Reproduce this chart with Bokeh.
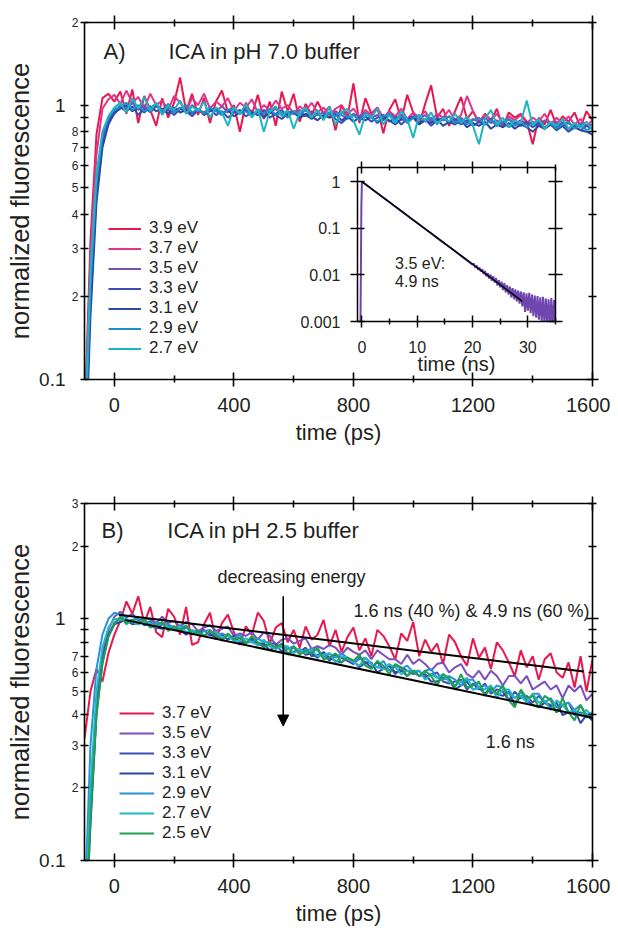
import numpy as np
from bokeh.plotting import figure
from bokeh.models import (FixedTicker, LogAxis, LinearAxis, Label, Arrow, NormalHead,
                          Legend, LegendItem, CustomJSTickFormatter, Range1d)
from bokeh.layouts import column
from bokeh.embed import file_html
from bokeh.resources import INLINE

FONT = "Liberation Sans"
TXT = "#231f20"

# ---------------- data ----------------
t_ps = np.arange(-100, 1601, 20)  # time grid (ps)

top_labels = ["3.9 eV", "3.7 eV", "3.5 eV", "3.3 eV", "3.1 eV", "2.9 eV", "2.7 eV"]
top_colors = ["#e8174d", "#e0358c", "#7b4fb3", "#3e4db5", "#2a4aa3", "#1f8fd0", "#1cb5c3"]

top_39 = [0.07, 0.32, 0.78, 1.06, 1.10, 1.03,
          1.12, 0.93, 1.14, 0.86, 1.08, 0.96, 0.84, 1.06, 0.90, 1.02,
          1.26, 0.95, 1.10, 0.92, 1.06, 0.86, 1.03, 1.13, 0.94, 1.00,
          0.80, 1.02, 0.92, 1.09, 0.89, 1.03, 0.84, 1.12, 0.95, 1.10,
          0.87, 1.01, 0.92, 1.03, 0.93, 0.99, 0.81, 1.00, 0.90, 1.20,
          0.86, 1.06, 0.93, 0.98, 0.79, 0.96, 1.05, 0.88, 1.09, 0.94,
          0.85, 1.01, 1.18, 0.90, 0.97, 0.84, 0.95, 1.07, 0.89, 0.95,
          0.86, 0.93, 0.88, 0.97, 0.83, 0.94, 0.90, 0.93, 0.87, 0.72,
          0.90, 0.85, 0.96, 0.84, 0.91, 0.87, 0.94, 0.83, 0.95, 0.88]
top_37 = [0.06, 0.28, 0.66, 0.97, 1.05, 1.09,
          1.01, 1.13, 1.02, 1.07, 0.97, 1.10, 1.00, 1.04, 0.96, 1.08,
          1.02, 0.95, 1.06, 1.00, 1.10, 0.97, 1.03, 0.99, 1.06, 0.95,
          1.02, 0.98, 1.05, 0.94, 1.00, 0.96, 1.04, 0.97, 1.00, 0.93,
          0.99, 0.95, 1.02, 0.94, 0.98, 0.92, 0.97, 1.00, 0.93, 0.97,
          0.91, 0.96, 0.92, 0.98, 0.90, 0.95, 0.91, 0.97, 0.89, 0.94,
          0.90, 0.95, 0.88, 0.93, 0.90, 0.96, 0.88, 0.92, 1.08, 0.95,
          0.87, 0.92, 0.88, 0.93, 0.86, 0.91, 0.88, 0.92, 0.86, 0.90,
          0.87, 0.93, 0.85, 0.90, 0.86, 0.91, 0.85, 0.89, 0.84, 0.88]
top_35 = [0.05, 0.21, 0.50, 0.76, 0.88, 0.95,
          1.00, 0.97, 1.02, 0.96, 1.00, 0.94, 0.99, 0.96, 1.01, 0.95,
          0.98, 0.94, 1.00, 0.96, 0.93, 0.98, 0.95, 0.99, 0.94, 0.97,
          0.93, 0.98, 0.95, 0.92, 0.96, 0.94, 0.97, 0.92, 0.95, 0.93,
          0.96, 0.91, 0.95, 0.92, 0.94, 0.90, 0.95, 0.92, 0.89, 0.93,
          0.91, 0.94, 0.90, 0.92, 0.88, 0.93, 0.90, 0.92, 0.88, 0.91,
          0.89, 0.92, 0.87, 0.90, 0.88, 0.91, 0.87, 0.90, 0.86, 0.89,
          0.87, 0.90, 0.86, 0.88, 0.85, 0.89, 0.86, 0.88, 0.85, 0.87,
          0.84, 0.88, 0.85, 0.87, 0.84, 0.86, 0.83, 0.86, 0.84, 0.85]
top_33 = [0.05, 0.19, 0.47, 0.72, 0.86, 0.93,
          0.98, 0.95, 0.99, 0.92, 0.97, 0.95, 1.00, 0.94, 0.96, 0.92,
          0.97, 0.95, 0.91, 0.96, 0.94, 0.97, 0.92, 0.95, 0.90, 0.94,
          0.96, 0.91, 0.94, 0.92, 0.95, 0.90, 0.93, 0.96, 0.91, 0.94,
          0.90, 0.92, 0.89, 0.93, 0.90, 0.94, 0.89, 0.86, 0.90, 0.92,
          0.88, 0.91, 0.87, 0.90, 0.92, 0.87, 0.90, 0.85, 0.89, 0.91,
          0.86, 0.89, 0.84, 0.88, 0.90, 0.86, 0.89, 0.85, 0.88, 0.84,
          0.87, 0.85, 0.89, 0.84, 0.87, 0.83, 0.86, 0.84, 0.87, 0.83,
          0.86, 0.82, 0.85, 0.83, 0.86, 0.82, 0.84, 0.81, 0.84, 0.82]
top_31 = [0.04, 0.17, 0.44, 0.70, 0.85, 0.94,
          0.97, 1.00, 0.95, 0.98, 0.94, 0.99, 0.95, 0.97, 0.93, 0.98,
          0.94, 0.96, 0.93, 0.97, 0.92, 0.95, 0.97, 0.93, 0.96, 0.91,
          0.94, 0.96, 0.92, 0.95, 0.90, 0.94, 0.92, 0.89, 0.93, 0.95,
          0.90, 0.93, 0.91, 0.88, 0.92, 0.90, 0.93, 0.88, 0.91, 0.87,
          0.90, 0.88, 0.91, 0.86, 0.90, 0.88, 0.85, 0.89, 0.87, 0.90,
          0.85, 0.88, 0.86, 0.89, 0.84, 0.87, 0.85, 0.88, 0.83, 0.86,
          0.84, 0.87, 0.82, 0.85, 0.83, 0.86, 0.82, 0.85, 0.83, 0.80,
          0.84, 0.82, 0.85, 0.81, 0.84, 0.80, 0.83, 0.81, 0.80, 0.78]
top_29 = [0.05, 0.22, 0.52, 0.78, 0.90, 0.96,
          0.99, 1.02, 0.96, 1.00, 0.95, 0.98, 1.01, 0.95, 0.99, 0.94,
          0.97, 1.00, 0.94, 0.97, 0.93, 0.98, 0.95, 0.92, 0.96, 0.98,
          0.93, 0.95, 0.91, 0.96, 0.93, 0.97, 0.92, 0.94, 0.90, 0.95,
          0.92, 0.96, 0.91, 0.93, 0.89, 0.94, 0.91, 0.95, 0.90, 0.92,
          0.88, 0.93, 0.90, 0.87, 0.91, 0.93, 0.88, 0.91, 0.86, 0.90,
          0.92, 0.87, 0.90, 0.86, 0.89, 0.91, 0.86, 0.89, 0.85, 0.88,
          0.90, 0.85, 0.88, 0.84, 0.87, 0.89, 0.84, 0.87, 0.83, 0.86,
          0.88, 0.83, 0.86, 0.82, 0.85, 0.87, 0.82, 0.85, 0.81, 0.83]
top_27 = [0.06, 0.25, 0.56, 0.80, 0.91, 0.98,
          1.02, 0.94, 1.06, 0.97, 1.07, 0.95, 1.02, 0.92, 1.00, 0.96,
          1.04, 0.93, 0.99, 0.95, 1.03, 0.90, 0.98, 0.94, 0.84, 0.98,
          0.93, 1.01, 0.90, 0.97, 0.80, 0.95, 0.99, 0.91, 0.96, 0.82,
          0.94, 0.98, 0.90, 0.96, 0.88, 0.99, 0.85, 0.94, 0.97, 0.88,
          0.78, 0.93, 0.90, 0.97, 0.85, 0.92, 0.86, 0.95, 0.89, 0.76,
          0.92, 0.88, 0.94, 0.85, 0.90, 0.87, 0.93, 0.86, 0.91, 0.84,
          0.72, 0.89, 0.96, 0.85, 0.90, 0.83, 0.88, 0.86, 1.04, 0.84,
          0.89, 0.82, 0.87, 0.84, 0.89, 0.82, 0.86, 0.83, 0.87, 0.81]
top_series = [top_39, top_37, top_35, top_33, top_31, top_29, top_27]

bot_labels = ["3.7 eV", "3.5 eV", "3.3 eV", "3.1 eV", "2.9 eV", "2.7 eV", "2.5 eV"]
bot_colors = ["#e8174d", "#7b4fbf", "#3e4dbb", "#2e47a5", "#2a92d8", "#22b8c8", "#1fa14e"]

bot_37 = [0.32, 0.50, 0.62, 0.55, 0.72, 0.86,
          0.98, 1.18, 1.05, 1.24, 0.96, 1.12, 0.88, 0.84, 1.10, 1.02,
          0.86, 1.12, 0.78, 0.80, 0.95, 1.06, 0.82, 0.96, 1.04, 0.88,
          0.78, 0.93, 0.86, 1.06, 0.98, 0.79, 0.92, 0.96, 0.80, 0.90,
          0.76, 0.93, 0.82, 0.86, 0.99, 0.77, 0.90, 0.73, 0.84, 0.92,
          0.74, 0.83, 0.70, 0.90, 0.85, 0.77, 0.68, 0.87, 0.81, 0.97,
          0.70, 0.82, 0.73, 0.79, 0.65, 0.86, 0.80, 0.70, 0.64, 0.83,
          0.69, 0.76, 0.62, 0.80, 0.74, 0.66, 0.58, 0.74, 0.63, 0.70,
          0.56, 0.68, 0.72, 0.60, 0.57, 0.66, 0.52, 0.70, 0.50, 0.68]
bot_35 = [0.05, 0.18, 0.45, 0.72, 0.90, 1.02,
          1.07, 1.01, 1.05, 0.98, 1.01, 0.99, 0.96, 1.02, 0.96, 0.98,
          0.93, 0.97, 0.95, 0.89, 0.92, 0.94, 0.89, 0.91, 0.93, 0.85,
          0.87, 0.85, 0.88, 0.82, 0.88, 0.85, 0.78, 0.82, 0.83, 0.79,
          0.81, 0.83, 0.75, 0.77, 0.75, 0.78, 0.76, 0.71, 0.76, 0.73,
          0.71, 0.74, 0.68, 0.74, 0.71, 0.68, 0.68, 0.65, 0.71, 0.65,
          0.68, 0.65, 0.61, 0.65, 0.66, 0.60, 0.63, 0.65, 0.59, 0.57,
          0.61, 0.56, 0.61, 0.58, 0.53, 0.58, 0.58, 0.54, 0.58, 0.51,
          0.53, 0.55, 0.51, 0.53, 0.47, 0.53, 0.50, 0.53, 0.46, 0.49]
bot_33 = [0.05, 0.16, 0.42, 0.68, 0.86, 0.96,
          1.01, 0.97, 0.99, 1.00, 0.94, 0.95, 0.91, 0.95, 0.95, 0.91,
          0.89, 0.92, 0.89, 0.87, 0.90, 0.85, 0.87, 0.82, 0.86, 0.83,
          0.83, 0.79, 0.83, 0.79, 0.77, 0.79, 0.79, 0.73, 0.75, 0.76,
          0.73, 0.76, 0.70, 0.71, 0.72, 0.67, 0.71, 0.69, 0.67, 0.65,
          0.69, 0.66, 0.63, 0.66, 0.62, 0.64, 0.59, 0.63, 0.61, 0.59,
          0.61, 0.57, 0.59, 0.60, 0.55, 0.54, 0.55, 0.56, 0.51, 0.54,
          0.51, 0.54, 0.49, 0.51, 0.50, 0.46, 0.50, 0.47, 0.48, 0.45,
          0.48, 0.45, 0.44, 0.41, 0.44, 0.45, 0.40, 0.41, 0.40, 0.38]
bot_31 = [0.04, 0.14, 0.40, 0.66, 0.85, 0.95,
          0.97, 0.99, 0.95, 0.96, 0.96, 0.97, 0.92, 0.91, 0.93, 0.93,
          0.90, 0.86, 0.89, 0.89, 0.85, 0.87, 0.83, 0.86, 0.82, 0.85,
          0.79, 0.80, 0.81, 0.78, 0.79, 0.74, 0.77, 0.77, 0.72, 0.73,
          0.75, 0.71, 0.72, 0.69, 0.73, 0.69, 0.67, 0.66, 0.69, 0.67,
          0.63, 0.66, 0.66, 0.60, 0.62, 0.64, 0.60, 0.61, 0.58, 0.61,
          0.58, 0.59, 0.55, 0.55, 0.57, 0.56, 0.51, 0.53, 0.55, 0.51,
          0.52, 0.49, 0.52, 0.49, 0.48, 0.50, 0.44, 0.48, 0.46, 0.44,
          0.43, 0.45, 0.43, 0.45, 0.40, 0.41, 0.42, 0.37, 0.40, 0.38]
bot_29 = [0.06, 0.30, 0.62, 0.86, 1.00, 1.06,
          1.04, 0.97, 0.99, 1.00, 0.96, 0.93, 0.97, 0.95, 0.95, 0.91,
          0.94, 0.92, 0.89, 0.86, 0.89, 0.90, 0.85, 0.87, 0.85, 0.83,
          0.86, 0.80, 0.80, 0.83, 0.80, 0.80, 0.75, 0.79, 0.75, 0.77,
          0.73, 0.74, 0.75, 0.74, 0.69, 0.72, 0.69, 0.72, 0.69, 0.66,
          0.68, 0.69, 0.65, 0.63, 0.67, 0.61, 0.64, 0.62, 0.64, 0.60,
          0.58, 0.61, 0.62, 0.57, 0.56, 0.58, 0.56, 0.53, 0.56, 0.56,
          0.52, 0.53, 0.50, 0.53, 0.52, 0.49, 0.47, 0.50, 0.45, 0.49,
          0.49, 0.45, 0.47, 0.43, 0.44, 0.45, 0.42, 0.44, 0.40, 0.41]
bot_27 = [0.05, 0.20, 0.50, 0.76, 0.92, 1.00,
          0.99, 1.00, 0.97, 0.95, 0.97, 0.96, 0.92, 0.97, 0.92, 0.92,
          0.93, 0.88, 0.90, 0.88, 0.85, 0.88, 0.88, 0.84, 0.85, 0.81,
          0.81, 0.83, 0.80, 0.78, 0.82, 0.77, 0.75, 0.77, 0.77, 0.72,
          0.75, 0.72, 0.74, 0.70, 0.71, 0.72, 0.66, 0.70, 0.69, 0.66,
          0.64, 0.69, 0.65, 0.63, 0.62, 0.65, 0.63, 0.59, 0.61, 0.61,
          0.61, 0.56, 0.59, 0.57, 0.59, 0.55, 0.53, 0.55, 0.57, 0.51,
          0.52, 0.51, 0.53, 0.47, 0.51, 0.51, 0.47, 0.48, 0.45, 0.49,
          0.45, 0.46, 0.42, 0.46, 0.44, 0.41, 0.42, 0.40, 0.42, 0.39]
bot_25 = [0.04, 0.15, 0.40, 0.65, 0.84, 0.95,
          1.02, 0.95, 0.99, 0.96, 1.00, 0.92, 0.94, 0.97, 0.89, 0.93,
          0.90, 0.94, 0.86, 0.89, 0.85, 0.89, 0.86, 0.81, 0.87, 0.82,
          0.84, 0.79, 0.85, 0.80, 0.76, 0.79, 0.76, 0.79, 0.71, 0.77,
          0.71, 0.74, 0.72, 0.76, 0.68, 0.69, 0.72, 0.66, 0.69, 0.67,
          0.71, 0.64, 0.62, 0.67, 0.64, 0.59, 0.65, 0.63, 0.58, 0.61,
          0.58, 0.61, 0.58, 0.53, 0.59, 0.57, 0.52, 0.59, 0.52, 0.53,
          0.55, 0.48, 0.52, 0.49, 0.53, 0.46, 0.43, 0.51, 0.47, 0.48,
          0.43, 0.48, 0.46, 0.41, 0.47, 0.41, 0.38, 0.44, 0.39, 0.40]
bot_series = [bot_37, bot_35, bot_33, bot_31, bot_29, bot_27, bot_25]

# fits (bottom panel)
fit_bi_t = [15, 1570]
fit_bi_y = [1.04, 0.605]
fit_16_t = [35, 1600]
fit_16_y = [0.99, 0.39]

# arrow "decreasing energy"
arrow_x = 565
arrow_y_start = 1.24
arrow_y_end = 0.36

# inset (3.5 eV, ns)
inset_t = [-0.8, -0.3, -0.1, 0.0, 0.5, 1, 1.5, 2, 3, 4, 5, 6, 7, 8, 9, 10,
           11, 12, 13, 14, 15, 16, 17, 18, 19, 20] + list(np.arange(20.25, 35.01, 0.25))
inset_y = [0.0002, 0.0002, 0.3, 1.0, 0.9, 0.81, 0.735, 0.66, 0.54, 0.44, 0.36, 0.292, 0.238,
           0.194, 0.158, 0.129, 0.105, 0.086, 0.070, 0.057, 0.0465, 0.038, 0.031, 0.0252,
           0.0204, 0.0166,
           0.0175, 0.0142, 0.0158, 0.0129, 0.0143, 0.0118, 0.0131, 0.0104, 0.0121, 0.0093,
           0.0108, 0.0084, 0.0101, 0.0075, 0.0093, 0.0068, 0.0085, 0.0059, 0.0077, 0.0054,
           0.0071, 0.0047, 0.0066, 0.0042, 0.0060, 0.0038, 0.0056, 0.0033, 0.0052, 0.0030,
           0.0049, 0.0027, 0.0046, 0.0024, 0.0044, 0.0021, 0.0042, 0.0016, 0.0040, 0.0017,
           0.0041, 0.0015, 0.0038, 0.0013, 0.0036, 0.0012, 0.0035, 0.0011, 0.0033, 0.0010,
           0.0034, 0.0009, 0.0031, 0.0009, 0.0030, 0.0008, 0.0032, 0.0008, 0.0029, 0.0009]
inset_fit_t = [0, 29]
inset_fit_y = [1.0, 0.0027]

# axis ticks
x_major = [0, 400, 800, 1200, 1600]
x_minor = [200, 600, 1000, 1400]
top_yticks = [0.1, 0.2, 0.3, 0.4, 0.5, 0.6, 0.7, 0.8, 0.9, 1, 2]
top_ysmall = ["", "2", "3", "4", "5", "6", "7", "8", "", "", "2"]
bot_yticks = [0.1, 0.2, 0.3, 0.4, 0.5, 0.6, 0.7, 0.8, 0.9, 1, 2, 3]
bot_ysmall = ["", "2", "3", "4", "5", "6", "7", "", "", "", "2", "3"]
big_yticks = [0.1, 1]
big_ylabels = ["0.1", "1"]
inset_yticks = [0.001, 0.01, 0.1, 1]
inset_ylabels = ["0.001", "0.01", "0.1", "1"]


def log_labels(vals, labs):
    return CustomJSTickFormatter(args=dict(vals=vals, labs=labs), code="""
        const i = vals.findIndex(v => Math.abs(Math.log(v) - Math.log(tick)) < 1e-6);
        return i >= 0 ? labs[i] : '';""")


def no_labels():
    return CustomJSTickFormatter(code="return '';")


def style(ax, tin, tout, mtin=0, mtout=0, lw=1.6):
    ax.axis_line_color = "black"
    ax.axis_line_width = lw
    ax.major_tick_line_color = "black"
    ax.major_tick_line_width = lw
    ax.major_tick_in = tin
    ax.major_tick_out = tout
    if mtin or mtout:
        ax.minor_tick_line_color = "black"
        ax.minor_tick_line_width = lw
        ax.minor_tick_in = mtin
        ax.minor_tick_out = mtout
    else:
        ax.minor_tick_line_color = None
    ax.major_label_text_font = FONT
    ax.major_label_text_color = TXT
    ax.axis_label_text_font = FONT
    ax.axis_label_text_font_style = "normal"
    ax.axis_label_text_color = TXT


def hidden(ax):
    ax.formatter = no_labels()
    ax.major_label_text_font_size = "1px"
    ax.major_label_standoff = 0


BL, BR = 84, 18   # left/right borders shared by every figure of the column


def panel(height, ymax, yticks, ysmall, btop, bbottom):
    p = figure(width=610, height=height, x_range=Range1d(-100, 1600),
               y_range=Range1d(0.1, ymax), y_axis_type="log",
               output_backend="svg", toolbar_location=None,
               min_border_left=BL, min_border_right=BR,
               min_border_top=btop, min_border_bottom=bbottom)
    p.grid.visible = False
    p.outline_line_color = None
    p.background_fill_color = "white"
    p.border_fill_color = "white"

    # bottom axis
    xa = p.xaxis[0]
    xa.ticker = FixedTicker(ticks=x_major, minor_ticks=x_minor)
    style(xa, 7, 7, 4, 3)
    xa.major_label_text_font_size = "20px"
    xa.major_label_standoff = 11
    xa.axis_label = "time (ps)"
    xa.axis_label_text_font_size = "22px"
    xa.axis_label_standoff = 5

    # top axis (ticks only)
    ta = LinearAxis(ticker=FixedTicker(ticks=x_major, minor_ticks=x_minor))
    style(ta, 7, 7, 4, 3)
    hidden(ta)
    p.add_layout(ta, "above")

    # inner left axis: ticks + small labels
    ya = p.yaxis[0]
    ya.ticker = FixedTicker(ticks=yticks)
    style(ya, 4, 4)
    ya.formatter = log_labels(yticks, ysmall)
    ya.major_label_text_font_size = "12px"
    ya.major_label_standoff = 2

    # outer left axis: big labels + title
    ob = LogAxis(ticker=FixedTicker(ticks=big_yticks))
    style(ob, 0, 0)
    ob.axis_line_color = None
    ob.major_tick_line_color = None
    ob.formatter = log_labels(big_yticks, big_ylabels)
    ob.major_label_text_font_size = "19px"
    ob.major_label_standoff = 3
    ob.axis_label = "normalized fluorescence"
    ob.axis_label_text_font_size = "25.5px"
    ob.axis_label_standoff = 2
    p.add_layout(ob, "left")

    # right axis (ticks only)
    ra = LogAxis(ticker=FixedTicker(ticks=big_yticks,
                                    minor_ticks=[v for v in yticks if v not in big_yticks]))
    style(ra, 6, 6, 4, 4)
    hidden(ra)
    p.add_layout(ra, "right")
    return p


def legend(p, renderers, labels, loc, gw, lh):
    lg = Legend(items=[LegendItem(label=l, renderers=[r]) for l, r in zip(labels, renderers)],
                location=loc, glyph_width=gw, glyph_height=lh, label_height=lh,
                spacing=0, padding=0, margin=0, label_standoff=8,
                border_line_color=None, background_fill_alpha=0,
                label_text_font=FONT, label_text_font_size="17px", label_text_color=TXT)
    p.add_layout(lg)


def text(p, x, y, s, size):
    p.add_layout(Label(x=x, y=y, text=s, text_font=FONT, text_font_size=size,
                       text_color=TXT, text_baseline="alphabetic"))


# ---------------- panel A ----------------
TOP_H = 458
pA = panel(TOP_H, 2, top_yticks, top_ysmall, 22, 79)
rA = [pA.line(t_ps, ys, line_color=c, line_width=2) for ys, c in zip(top_series, top_colors)]
legend(pA, rA, top_labels, (24, 21), 33, 19)
text(pA, -36, 1.57, "A)", "22px")
text(pA, 181, 1.57, "ICA in pH 7.0 buffer", "22px")

# ---------------- inset ----------------
# frame wanted at page x 357..555, y 167..321
IN_BT, IN_BB = 12, 58
IN_FW, IN_FH = 198, 154
IN_W = BL + IN_FW + BR
IN_H = IN_BT + IN_FH + IN_BB
IN_LEFT = 357 - BL
IN_TOP = 167 - IN_BT
pI = figure(width=IN_W, height=IN_H, x_range=Range1d(-0.8, 35),
            y_range=Range1d(0.001, 2), y_axis_type="log",
            output_backend="svg", toolbar_location=None,
            min_border_left=BL, min_border_right=BR, min_border_top=IN_BT,
            min_border_bottom=IN_BB)
pI.grid.visible = False
pI.outline_line_color = None
pI.background_fill_alpha = 0
pI.border_fill_alpha = 0
ixa = pI.xaxis[0]
ixa.ticker = FixedTicker(ticks=[0, 10, 20, 30], minor_ticks=[5, 15, 25, 35])
style(ixa, 6, 6, 3, 3, lw=1.5)
ixa.major_label_text_font_size = "16px"
ixa.major_label_standoff = 13
ixa.axis_label = "time (ns)"
ixa.axis_label_text_font_size = "20px"
ixa.axis_label_standoff = -3
iya = pI.yaxis[0]
iya.ticker = FixedTicker(ticks=inset_yticks)
style(iya, 7, 7, lw=1.5)
iya.formatter = log_labels(inset_yticks, inset_ylabels)
iya.major_label_text_font_size = "16px"
iya.major_label_standoff = 10
ita = LinearAxis(ticker=FixedTicker(ticks=[0, 10, 20, 30], minor_ticks=[5, 15, 25, 35]))
style(ita, 6, 6, 3, 3, lw=1.5)
hidden(ita)
pI.add_layout(ita, "above")
ira = LogAxis(ticker=FixedTicker(ticks=inset_yticks))
style(ira, 7, 7, lw=1.5)
hidden(ira)
pI.add_layout(ira, "right")
pI.line(inset_t, inset_y, line_color="#6f45b0", line_width=2)
pI.line(inset_fit_t, inset_fit_y, line_color="black", line_width=1.5)
text(pI, 6.0, 0.0177, "3.5 eV:", "16px")
text(pI, 6.0, 0.00735, "4.9 ns", "16px")
pI.margin = (IN_TOP - TOP_H, 0, TOP_H - (IN_TOP + IN_H), IN_LEFT)
pI.align = "start"

# ---------------- panel B ----------------
pB = panel(473, 3, bot_yticks, bot_ysmall, 45, 71)
rB = [pB.line(t_ps, ys, line_color=c, line_width=2) for ys, c in zip(bot_series, bot_colors)]
pB.line(fit_bi_t, fit_bi_y, line_color="black", line_width=2)
pB.line(fit_16_t, fit_16_y, line_color="black", line_width=2)
legend(pB, rB, bot_labels, (35, 17), 35, 20)
text(pB, -43, 2.32, "B)", "22px")
text(pB, 177, 2.32, "ICA in pH 2.5 buffer", "22px")
text(pB, 345, 1.49, "decreasing energy", "18px")
text(pB, 800, 1.08, "1.6 ns (40 %) & 4.9 ns (60 %)", "18px")
text(pB, 1243, 0.31, "1.6 ns", "18px")
pB.add_layout(Arrow(x_start=arrow_x, y_start=arrow_y_start, x_end=arrow_x, y_end=arrow_y_end,
                    line_color="black", line_width=1.6,
                    end=NormalHead(size=11, fill_color="black", line_color="black")))

layout = column(pA, pI, pB)
open("out.html", "w").write(file_html(layout, INLINE))
